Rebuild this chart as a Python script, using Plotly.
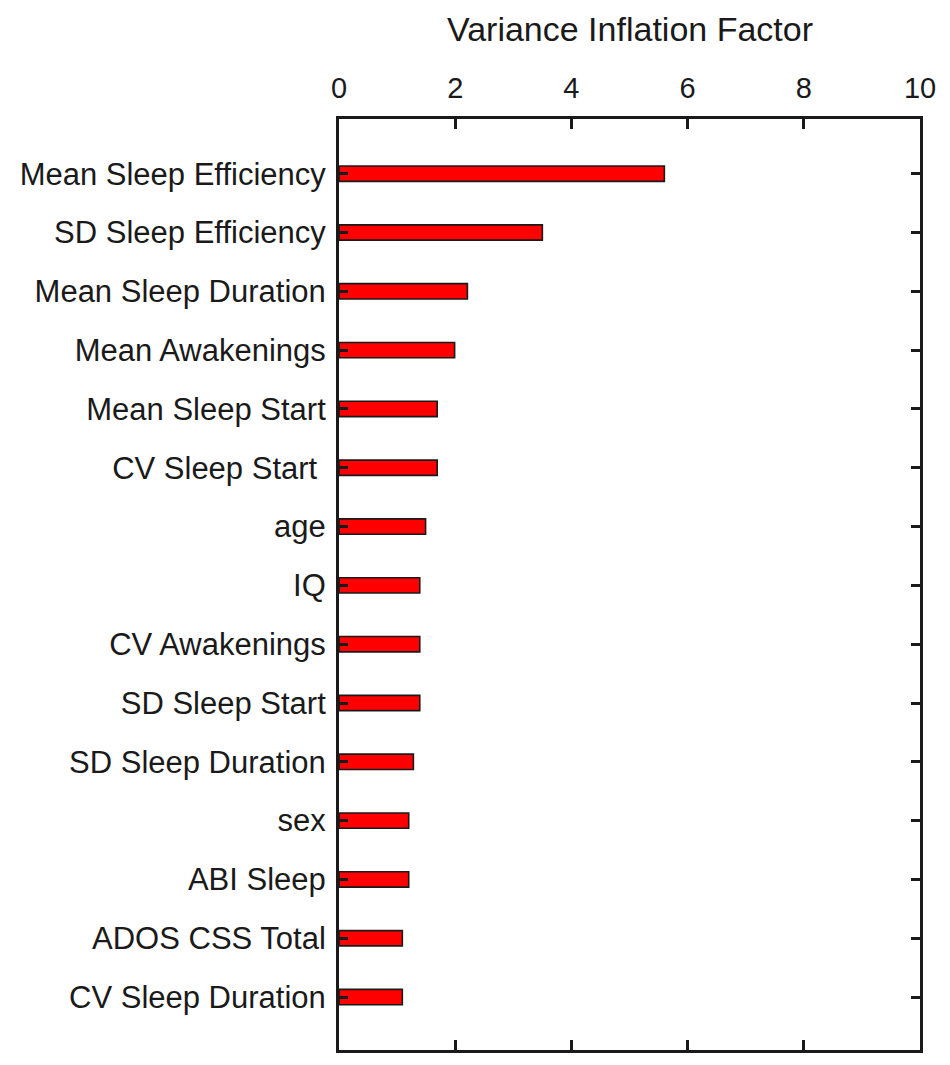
import plotly.graph_objects as go

categories = ["Mean Sleep Efficiency", "SD Sleep Efficiency", "Mean Sleep Duration",
              "Mean Awakenings", "Mean Sleep Start", "CV Sleep Start ", "age", "IQ",
              "CV Awakenings", "SD Sleep Start", "SD Sleep Duration", "sex", "ABI Sleep",
              "ADOS CSS Total", "CV Sleep Duration"]
vif = [5.60, 3.50, 2.21, 1.99, 1.69, 1.69, 1.49, 1.39, 1.39, 1.39, 1.28, 1.20, 1.20, 1.09, 1.09]
x_ticks = [0, 2, 4, 6, 8, 10]

fig = go.Figure(go.Bar(
    x=vif, y=categories, orientation="h", width=0.26,
    marker=dict(color="#FF0000", line=dict(color="#1a1a1a", width=1.6)),
))

fig.update_layout(
    width=950, height=1065,
    margin=dict(l=325, r=38, t=111, b=23),
    paper_bgcolor="white", plot_bgcolor="white",
    font=dict(family="Liberation Sans, Arial, sans-serif", color="#1a1a1a"),
    showlegend=False,
    annotations=[dict(text="Variance Inflation Factor", xref="paper", yref="paper",
                      x=0.5, y=1, yshift=90, xanchor="center", yanchor="middle",
                      showarrow=False, font=dict(size=34, color="#1a1a1a"))],
)
fig.update_xaxes(
    side="top", range=[0, 10], tickvals=x_ticks, ticktext=[str(v) for v in x_ticks],
    ticks="inside", ticklen=10, tickwidth=3, tickcolor="#1a1a1a",
    showline=True, linewidth=3, linecolor="#1a1a1a", mirror="ticks",
    showgrid=False, zeroline=False, tickfont=dict(size=29), ticklabelstandoff=6,
)
fig.update_yaxes(
    categoryorder="array", categoryarray=categories, range=[14.9, -0.93],
    ticks="inside", ticklen=9, tickwidth=3, tickcolor="#1a1a1a",
    showline=True, linewidth=3, linecolor="#1a1a1a", mirror="ticks",
    showgrid=False, zeroline=False, tickfont=dict(size=31), ticklabelstandoff=4,
)

fig.write_html("out.html")
